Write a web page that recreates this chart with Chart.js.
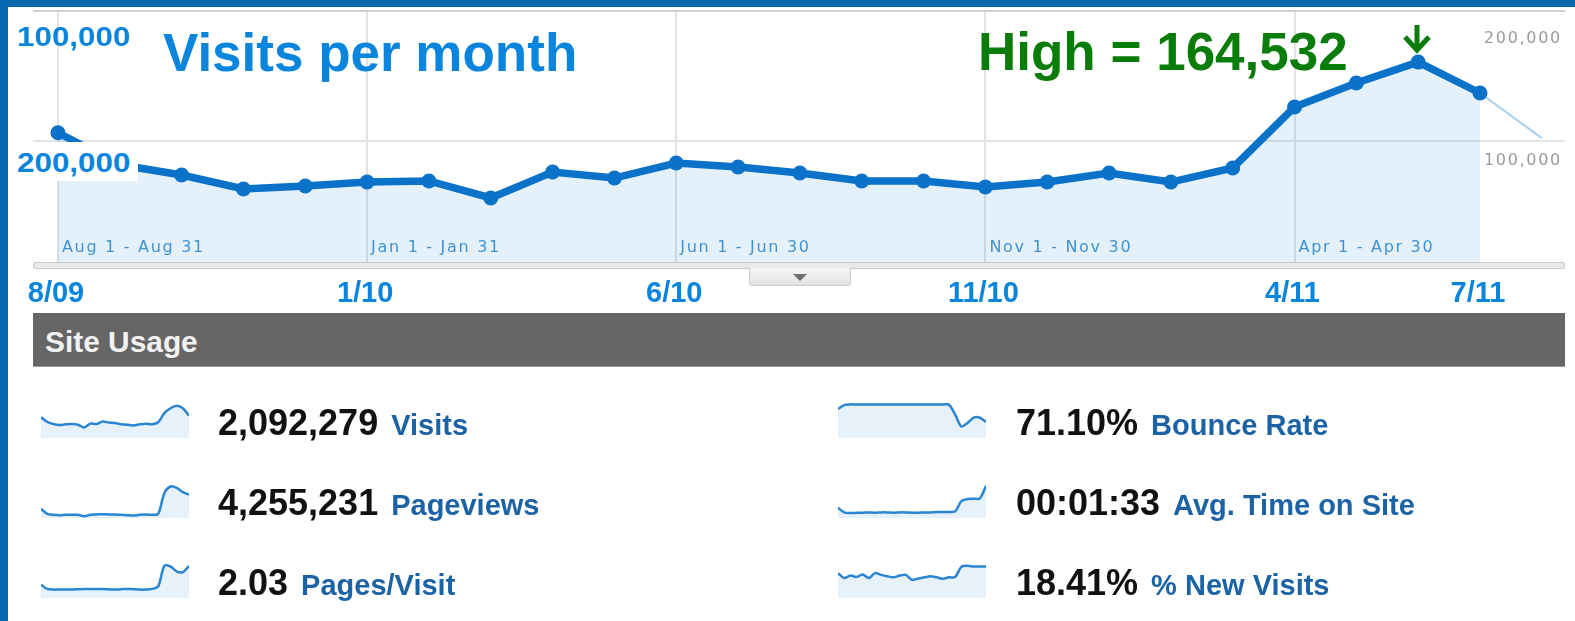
<!DOCTYPE html>
<html>
<head>
<meta charset="utf-8">
<script src="https://cdn.jsdelivr.net/npm/chart.js@4.4.0/dist/chart.umd.min.js"></script>
<style>
  html, body { margin: 0; padding: 0; background: #fff; }
  body { width: 1575px; height: 621px; position: relative; overflow: hidden; font-family: "Liberation Sans", Arial, sans-serif; }
  .abs { position: absolute; }
  #main { position: absolute; left: 0; top: 0; }
  .edgeL { left: 0; top: 0; width: 8px; height: 621px; background: #0767ae; }
  .edgeT { left: 0; top: 0; width: 1575px; height: 7px; background: #0767ae; }
  .axisbar { left: 33px; top: 262px; width: 1530px; height: 5px; background: #e9e9e9; border: 1px solid #c9c9c9; border-radius: 2px; }
  .tab { left: 749px; top: 268px; width: 100px; height: 17px; background: linear-gradient(#f6f6f6, #e1e1e1); border: 1px solid #cfcfcf; border-top: none; border-radius: 0 0 4px 4px; }
  .tab:after { content: ""; position: absolute; left: 43px; top: 6px; border-left: 7px solid transparent; border-right: 7px solid transparent; border-top: 7px solid #707070; }
  .note { font-weight: bold; white-space: nowrap; line-height: 1; }
  .blue { color: #0a85de; }
  .green { color: #0a7c0a; }
  .stretch { transform: scaleX(1.12); transform-origin: 0 0; }
  .whitebox { left: 15px; top: 142px; width: 123px; height: 39px; background: #fff; }
  .header { left: 33px; top: 313px; width: 1532px; height: 53px; background: #666; border-bottom: 1px solid #999; }
  .header span { position: absolute; left: 12px; top: 15px; font-size: 29px; font-weight: bold; color: #f2f2f2; line-height: 1; transform: scaleX(1.03); transform-origin: 0 0; }
  .row { font-size: 36px; line-height: 1; white-space: nowrap; }
  .num { font-weight: bold; color: #111; }
  .lab { font-weight: bold; font-size: 29px; color: #1c63a6; margin-left: 13px; }
</style>
</head>
<body>
<canvas id="main" width="1575" height="621"></canvas>
<div class="abs edgeL"></div>
<div class="abs edgeT"></div>
<div class="abs axisbar"></div>
<div class="abs tab"></div>
<div class="abs whitebox"></div>
<div class="abs note blue stretch" style="left:17px; top:23px; font-size:28px;">100,000</div>
<div class="abs note blue stretch" style="left:17px; top:149px; font-size:28px;">200,000</div>
<div class="abs note blue" style="left:163px; top:26px; font-size:53px;">Visits per month</div>
<div class="abs note green" style="left:978px; top:25px; font-size:53px;">High = 164,532</div>
<svg class="abs" style="left:1400px; top:22px;" width="34" height="34">
  <path d="M17 3 V26" stroke="#0a7c0a" stroke-width="5" fill="none"/>
  <path d="M5 15 L17 28 L29 15" stroke="#0a7c0a" stroke-width="5" fill="none"/>
</svg>
<div class="abs header"><span>Site Usage</span></div>
<div id="usage"></div>

<script>
// monthly visits, Aug 2009 .. Aug 2011 (last month is partial)
const months = ['8/09', '9/09', '10/09', '11/09', '12/09', '1/10', '2/10', '3/10', '4/10', '5/10', '6/10', '7/10', '8/10',
    '9/10', '10/10', '11/10', '12/10', '1/11', '2/11', '3/11', '4/11', '5/11', '6/11', '7/11', '8/11'];
const visits = [106400, 80000, 71600, 60100, 62600, 65800, 66700, 52700, 74100, 69100, 81500, 78200, 73300,
    66700, 66700, 61700, 65800, 73300, 65800, 77400, 127600, 147300, 164532, 139100, 102000];

const tickLabels = ['8/09', '1/10', '6/10', '11/10', '4/11', '7/11'];
const rangeMonths = ['8/09', '1/10', '6/10', '11/10', '4/11'];
const rangeLabels = ['Aug 1 - Aug 31', 'Jan 1 - Jan 31', 'Jun 1 - Jun 30', 'Nov 1 - Nov 30', 'Apr 1 - Apr 30'];
const rightTicks = [200000, 100000];
const rightTickLabels = ['200,000', '100,000'];

// site usage summary
const metricValues = ['2,092,279', '4,255,231', '2.03', '71.10%', '00:01:33', '18.41%'];
const metricNames = ['Visits', 'Pageviews', 'Pages/Visit', 'Bounce Rate', 'Avg. Time on Site', '% New Visits'];

// sparklines, relative height 0..100
const visitsSpark = [59, 46, 40, 37, 39, 40, 38, 30, 41, 40, 47, 44, 43, 39, 38, 36, 39, 41, 39, 45, 71, 85, 92, 85, 64];
const pageviewsSpark = [26, 12, 9, 8, 9, 9, 9, 5, 9, 10, 11, 10, 10, 9, 8, 7, 9, 10, 9, 12, 71, 90, 86, 74, 67];
const pagesVisitSpark = [38, 26, 24, 24, 24, 24, 25, 26, 26, 26, 26, 25, 24, 25, 26, 25, 24, 24, 26, 33, 92, 90, 76, 74, 92];
const bounceSpark = [83, 94, 96, 96, 96, 96, 96, 96, 96, 96, 96, 96, 96, 96, 96, 96, 96, 96, 95, 67, 33, 43, 58, 58, 46];
const timeSpark = [29, 16, 14, 15, 15, 16, 15, 16, 16, 15, 16, 16, 15, 15, 16, 16, 17, 17, 17, 19, 48, 54, 55, 56, 92];
const newVisitsSpark = [71, 57, 64, 60, 67, 57, 71, 66, 62, 59, 64, 66, 52, 56, 59, 62, 59, 55, 59, 60, 89, 92, 90, 90, 90];
const sparks = [visitsSpark, pageviewsSpark, pagesVisitSpark, bounceSpark, timeSpark, newVisitsSpark];

const yMax = 206600;
const lineBlue = '#0a72c8';

const chartText = {
    id: 'chartText',
    afterDatasetsDraw(chart) {
        const {ctx, chartArea, scales: {x, y}} = chart;
        ctx.save();
        ctx.font = '16px "DejaVu Sans"';
        ctx.letterSpacing = '1.7px';
        ctx.textBaseline = 'alphabetic';
        ctx.fillStyle = '#3f93d3';
        ctx.textAlign = 'left';
        rangeLabels.forEach((t, i) => {
            ctx.fillText(t, x.getPixelForValue(months.indexOf(rangeMonths[i])) + 4, chartArea.bottom - 10);
        });
        ctx.fillStyle = '#9a9a9a';
        ctx.textAlign = 'right';
        rightTicks.forEach((v, i) => {
            ctx.fillText(rightTickLabels[i], chartArea.right - 3, y.getPixelForValue(v) + 24);
        });
        ctx.letterSpacing = '0px';
        ctx.font = 'bold 29px "Liberation Sans", Arial';
        ctx.fillStyle = '#0a85de';
        ctx.textAlign = 'center';
        tickLabels.forEach(t => {
            ctx.fillText(t, x.getPixelForValue(months.indexOf(t)) - 2, chartArea.bottom + 40);
        });
        ctx.restore();
    }
};

new Chart(document.getElementById('main'), {
    type: 'line',
    data: {
        datasets: [{
            data: visits.slice(0, 24).map((v, i) => ({x: i, y: v})),
            borderColor: lineBlue,
            borderWidth: 7.5,
            backgroundColor: 'rgba(0,115,204,0.1)',
            fill: 'origin',
            pointRadius: 7.5,
            pointBackgroundColor: lineBlue,
            pointBorderWidth: 0,
            tension: 0,
        }, {
            // partial month
            data: visits.slice(23).map((v, i) => ({x: i + 23, y: v})),
            borderColor: '#a6d0ee',
            borderWidth: 2,
            pointRadius: 0,
            fill: false,
        }]
    },
    options: {
        responsive: false,
        devicePixelRatio: 1,
        animation: false,
        events: [],
        layout: {padding: {left: 33, right: 10, top: 11, bottom: 359}},
        plugins: {legend: {display: false}, tooltip: {enabled: false}},
        scales: {
            x: {
                type: 'linear',
                min: -0.404,
                max: 24.375,
                border: {display: false},
                ticks: {display: false},
                grid: {drawTicks: false, color: '#e3e3e3', lineWidth: 2},
                afterBuildTicks: s => {
                    s.ticks = rangeMonths.map(m => ({value: months.indexOf(m)}));
                }
            },
            y: {
                min: 0,
                max: yMax,
                border: {display: false},
                ticks: {display: false},
                grid: {
                    drawTicks: false,
                    lineWidth: 2,
                    color: c => c.tick && c.tick.value === yMax ? '#cfcfcf' : '#e3e3e3'
                },
                afterBuildTicks: s => {
                    s.ticks = [{value: 100000}, {value: yMax}];
                }
            }
        }
    },
    plugins: [chartText]
});

// site usage rows
const usage = document.getElementById('usage');
const rowTops = [403, 483, 563];
const colLeft = [{spark: 41, text: 218}, {spark: 838, text: 1016}];

metricValues.forEach((val, i) => {
    const col = colLeft[Math.floor(i / 3)];
    const r = i % 3;

    const row = document.createElement('div');
    row.className = 'abs row';
    row.style.left = col.text + 'px';
    row.style.top = (rowTops[r] + 2) + 'px';
    row.innerHTML = `<span class="num">${val}</span><span class="lab">${metricNames[i]}</span>`;
    usage.appendChild(row);

    const cv = document.createElement('canvas');
    cv.width = 148;
    cv.height = 35;
    cv.className = 'abs';
    cv.style.left = col.spark + 'px';
    cv.style.top = rowTops[r] + 'px';
    usage.appendChild(cv);

    new Chart(cv, {
        type: 'line',
        data: {
            labels: months,
            datasets: [{
                data: sparks[i],
                borderColor: '#2a86d2',
                borderWidth: 2.5,
                backgroundColor: '#e6f1fa',
                fill: 'origin',
                pointRadius: 0,
                tension: 0.3,
            }]
        },
        options: {
            responsive: false,
            devicePixelRatio: 1,
            animation: false,
            events: [],
            layout: {padding: 0},
            plugins: {legend: {display: false}, tooltip: {enabled: false}},
            scales: {
                x: {display: false},
                y: {display: false, min: 0, max: 100}
            }
        }
    });
});
</script>
</body>
</html>
